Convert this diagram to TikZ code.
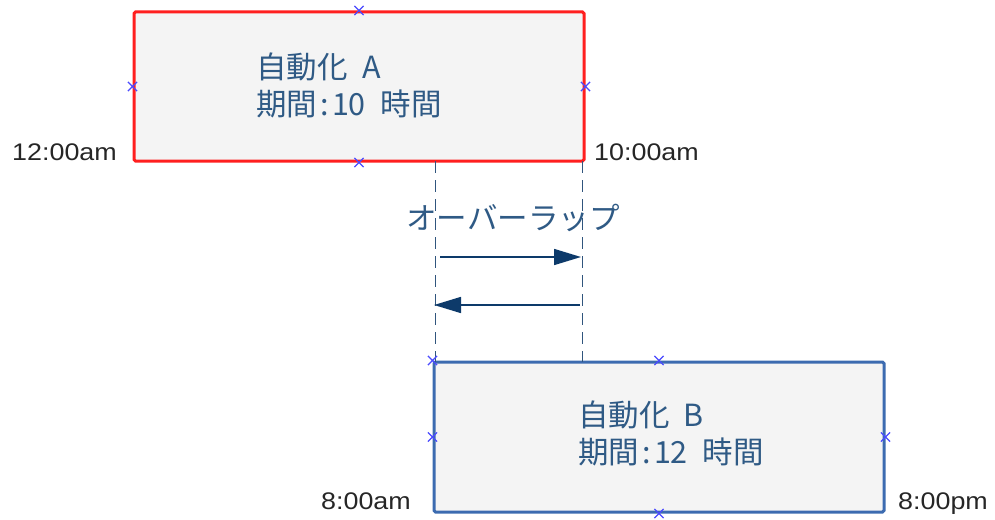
\documentclass[tikz,border=0pt]{standalone}
\usepackage{fontspec}
\newfontfamily\jp{Noto Sans CJK JP}
\newfontfamily\timefont[FakeStretch=1.12]{Liberation Sans}
\usetikzlibrary{arrows.meta,shapes.misc}
\definecolor{redb}{HTML}{FF1F1F}
\definecolor{blueb}{HTML}{3C6BB0}
\definecolor{boxfill}{HTML}{F4F4F4}
\definecolor{txt}{HTML}{2F5A85}
\definecolor{arr}{HTML}{0D3A6A}
\definecolor{dsh}{HTML}{30557D}
\definecolor{xmkc}{HTML}{4A4AFF}
\newcommand\hw[1]{\makebox[0.52em]{#1}}
\tikzset{
  taskbox/.style={draw, line width=3pt, fill=boxfill, rounded corners=1.5pt,
    minimum width=450pt, minimum height=149pt, inner sep=0pt},
  tasktext/.style={anchor=west, align=left, inner sep=0pt, text=txt,
    font=\jp\fontsize{30.5}{37}\selectfont},
  timelbl/.style={inner sep=0pt, text=black!85, font=\timefont\fontsize{24}{28}\selectfont},
  xmk/.style={draw=xmkc, cross out, line width=1.2pt, minimum size=8pt, inner sep=0pt},
  guide/.style={draw=dsh, line width=1.8pt, dash pattern=on 12pt off 7pt},
  ovarrow/.style={draw=arr, line width=1.6pt, -{Triangle[length=27pt,width=16pt]}}
}
\begin{document}
\begin{tikzpicture}[x=1pt,y=-1pt]
\useasboundingbox (0,0) rectangle (995,519);
% boxes
\node[taskbox, draw=redb] (A) at (359,86.5) {};
\node[taskbox, draw=blueb, minimum height=150pt] (B) at (659,437) {};
% texts
\node[tasktext] (tA) at (256,85) {自動化\hw{ }\hw{A}\\期間\hw{:}\hw{1}\hw{0}\hw{ }時間};
\node[tasktext] (tB) at (578,433) {自動化\hw{ }\hw{B}\\期間\hw{:}\hw{1}\hw{2}\hw{ }時間};
% time labels
\node[timelbl, anchor=base east] (t1) at (117,160) {12:00am};
\node[timelbl, anchor=base west] (t2) at (594,160) {10:00am};
\node[timelbl, anchor=base east] (t3) at (411,509) {8:00am};
\node[timelbl, anchor=base west] (t4) at (898,509) {8:00pm};
% dashed guides
\coordinate (g1t) at (435.5,161);
\coordinate (g1b) at (435.5,362);
\coordinate (g2t) at (582.5,161);
\coordinate (g2b) at (582.5,362);
\draw[guide] (g1t) -- (g1b);
\draw[guide] (g2t) -- (g2b);
% overlap label
\node[inner sep=0pt, text=txt, font=\jp\fontsize{30.5}{37}\selectfont] (ov) at (513,218) {オーバーラップ};
% arrows
\coordinate (a1s) at (440,257);
\coordinate (a1e) at (581,257);
\coordinate (a2s) at (580,305);
\coordinate (a2e) at (434,305);
\draw[ovarrow] (a1s) -- (a1e);
\draw[ovarrow] (a2s) -- (a2e);
% markers
\foreach \p in {A.north,A.west,A.east,A.south,B.north west,B.north,B.west,B.east,B.south}
  \node[xmk] at (\p) {};
\end{tikzpicture}
\end{document}
